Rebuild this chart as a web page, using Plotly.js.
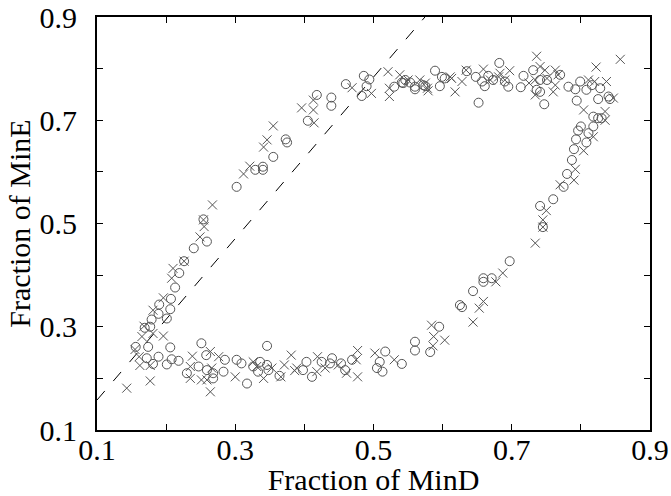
<!DOCTYPE html>
<html>
<head>
<meta charset="utf-8">
<script src="https://cdn.plot.ly/plotly-3.0.1.min.js"></script>
<style>html,body{margin:0;padding:0;background:#fff;}#chart{width:671px;height:496px;}</style>
</head>
<body>
<div id="chart"></div>
<script>
// Series "o" (open circles)
const circleX = [0.254,0.259,0.240,0.226,0.219,0.213,0.207,0.190,0.206,0.189,0.201,0.179,0.169,0.177,0.156,0.174,0.206,0.251,0.172,0.189,0.208,0.218,0.181,0.201,0.258,0.285,0.230,0.247,0.259,0.268,0.283,0.268,0.302,0.309,0.317,0.326,
  0.346,0.336,0.346,0.348,0.333,0.364,0.398,0.403,0.411,0.425,0.440,0.437,0.453,0.459,0.469,0.517,0.509,0.505,0.513,0.541,0.560,0.560,0.595,0.582,0.625,0.628,0.644,
  0.659,0.659,0.671,0.697,0.741,0.760,0.745,0.775,0.780,0.787,0.790,0.793,0.808,0.796,0.800,0.818,0.811,0.818,0.825,0.830,0.794,0.747,0.652,
  0.682,0.635,0.599,0.603,0.596,0.648,0.657,0.666,0.661,0.673,0.690,0.695,0.717,0.713,0.731,0.741,0.736,0.741,0.751,0.770,0.782,0.792,0.799,0.808,0.816,0.828,0.825,0.840,0.842,0.589,0.572,
  0.302,0.329,0.340,0.340,0.355,0.373,0.375,0.418,0.405,0.439,0.439,0.460,0.486,0.494,0.490,0.483,0.530,0.541,0.546,0.553,0.560,0.560,0.543,0.575];
const circleY = [0.508,0.465,0.452,0.427,0.404,0.376,0.354,0.343,0.334,0.325,0.316,0.314,0.298,0.300,0.261,0.261,0.260,0.268,0.239,0.242,0.237,0.234,0.228,0.227,0.245,0.236,0.210,0.223,0.216,0.210,0.213,0.200,0.236,0.229,0.190,0.223,
  0.263,0.232,0.226,0.216,0.213,0.205,0.216,0.232,0.203,0.232,0.239,0.229,0.229,0.216,0.236,0.252,0.232,0.220,0.213,0.228,0.271,0.254,0.300,0.251,0.342,0.338,0.369,
  0.394,0.387,0.394,0.427,0.534,0.547,0.493,0.571,0.596,0.623,0.644,0.663,0.657,0.680,0.688,0.688,0.675,0.707,0.704,0.704,0.738,0.731,0.734,
  0.811,0.795,0.784,0.781,0.766,0.784,0.775,0.786,0.766,0.778,0.775,0.765,0.786,0.764,0.797,0.778,0.759,0.755,0.778,0.788,0.765,0.760,0.775,0.759,0.768,0.762,0.741,0.746,0.741,0.796,0.768,
  0.571,0.604,0.610,0.604,0.629,0.663,0.657,0.749,0.699,0.744,0.728,0.770,0.786,0.779,0.766,0.747,0.765,0.773,0.778,0.773,0.765,0.760,0.772,0.766];

// Series "x" (crosses)
const crossX = [0.267,0.254,0.255,0.249,0.226,0.210,0.208,0.196,0.181,0.168,0.181,0.196,0.165,0.155,0.161,0.162,0.177,0.177,0.143,0.238,0.264,0.276,0.235,0.266,0.251,0.259,0.235,0.264,0.300,
  0.326,0.331,0.341,0.353,0.366,0.371,0.381,0.386,0.389,0.419,0.418,0.430,0.449,0.461,0.477,0.475,0.477,0.502,0.530,0.584,0.587,0.603,0.586,0.644,
  0.653,0.659,0.677,0.687,0.734,0.745,0.745,0.750,0.770,0.790,0.792,0.804,0.818,0.804,0.835,0.835,
  0.736,0.857,0.822,0.741,0.748,0.763,0.659,0.697,0.634,0.611,0.613,0.628,0.618,0.669,0.681,0.725,0.734,0.734,0.751,0.760,0.763,0.767,0.811,0.820,0.837,0.847,0.579,0.683,0.690,
  0.312,0.321,0.341,0.346,0.355,0.396,0.413,0.413,0.414,0.469,0.497,0.521,0.523,0.523,0.538,0.550,0.567,0.575,0.578];
const crossY = [0.536,0.507,0.494,0.474,0.427,0.413,0.394,0.356,0.332,0.301,0.287,0.282,0.281,0.256,0.242,0.225,0.225,0.195,0.181,0.243,0.252,0.242,0.223,0.220,0.197,0.197,0.200,0.174,0.203,
  0.232,0.223,0.200,0.220,0.203,0.226,0.245,0.215,0.220,0.242,0.213,0.220,0.226,0.210,0.254,0.236,0.203,0.249,0.236,0.303,0.281,0.274,0.263,0.309,
  0.336,0.349,0.387,0.404,0.462,0.493,0.507,0.525,0.575,0.584,0.605,0.641,0.668,0.720,0.717,0.700,
  0.824,0.818,0.803,0.804,0.797,0.797,0.799,0.796,0.797,0.784,0.781,0.775,0.755,0.778,0.784,0.772,0.778,0.749,0.781,0.755,0.768,0.788,0.778,0.775,0.775,0.743,0.757,0.791,0.778,
  0.596,0.611,0.648,0.662,0.689,0.724,0.720,0.739,0.695,0.763,0.752,0.794,0.762,0.746,0.788,0.778,0.778,0.772,0.762];

// Dashed reference line
const refX = [0.1, 0.6];
const refY = [0.158, 0.940];

// Axis ticks
const tickVals = [0.1,0.2,0.3,0.4,0.5,0.6,0.7,0.8,0.9];
const tickText = ['0.1','','0.3','','0.5','','0.7','','0.9'];

const markerColor = '#555555';
const font = {family: '"Liberation Serif", "Times New Roman", serif', size: 30, color: '#000'};

const traces = [
  {x: refX, y: refY, mode: 'lines', type: 'scatter', line: {color: '#000', width: 1, dash: '12px,13px'}, hoverinfo: 'skip', showlegend: false},
  {x: circleX, y: circleY, mode: 'markers', type: 'scatter', name: 'o',
   marker: {symbol: 'circle-open', size: 9, color: markerColor, line: {width: 1, color: markerColor}}},
  {x: crossX, y: crossY, mode: 'markers', type: 'scatter', name: 'x',
   marker: {symbol: 'x-thin-open', size: 9, color: markerColor, line: {width: 1, color: markerColor}}}
];

const axisCommon = {
  range: [0.1, 0.9], tickmode: 'array', tickvals: tickVals, ticktext: tickText,
  ticks: 'inside', ticklen: 6, tickwidth: 1, tickcolor: '#000',
  showline: true, linewidth: 2, linecolor: '#000', mirror: 'ticks',
  showgrid: false, zeroline: false, tickfont: font
};

const layout = {
  width: 671, height: 496,
  margin: {l: 97, r: 21, t: 17, b: 66},
  paper_bgcolor: '#fff', plot_bgcolor: '#fff',
  showlegend: false,
  font: font,
  xaxis: Object.assign({}, axisCommon, {ticklabelstandoff: -8, title: {text: 'Fraction of MinD', font: font, standoff: 9}}),
  yaxis: Object.assign({}, axisCommon, {ticklabelstandoff: 12, title: {text: 'Fraction of MinE', font: font, standoff: 0}})
};

Plotly.newPlot('chart', traces, layout, {staticPlot: true, displayModeBar: false});
</script>
</body>
</html>
